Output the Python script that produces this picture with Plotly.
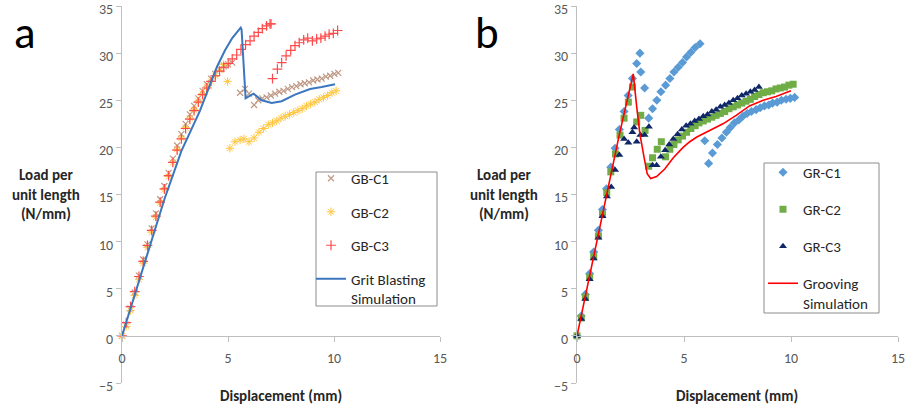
import plotly.graph_objects as go

# ---------------- data: grit blasting (panel a) ----------------
gb_c1_x = [0, 0.2, 0.4, 0.6, 0.8, 1.0, 1.2, 1.4, 1.6, 1.8, 2.0, 2.2, 2.4, 2.6, 2.8, 3.0, 3.2, 3.4,
           3.6, 3.8, 4.0, 4.2, 4.4, 4.6, 4.8, 5.0, 5.2, 5.57, 5.8, 5.99, 6.23, 6.43, 6.62, 6.82,
           7.02, 7.22, 7.42, 7.62, 7.82, 8.02, 8.22, 8.42, 8.62, 8.82, 9.02, 9.22, 9.42, 9.62,
           9.82, 10.02, 10.2]
gb_c1_y = [0, 1.2, 2.9, 4.6, 6.4, 8.1, 9.7, 11.4, 13.0, 14.5, 15.9, 17.3, 18.8, 20.2, 21.4, 22.5,
           23.5, 24.4, 25.2, 26.0, 26.7, 27.3, 27.8, 28.3, 28.6, 28.8, 29.0, 25.8, 26.2, 25.7, 24.5,
           25.0, 25.2, 25.3, 25.5, 25.7, 25.9, 26.0, 26.2, 26.4, 26.5, 26.7, 26.8, 26.9, 27.1, 27.2,
           27.3, 27.5, 27.6, 27.8, 27.9]

gb_c2_x = [0, 0.2, 0.4, 0.6, 0.8, 1.0, 1.2, 1.4, 1.6, 1.8, 2.0, 2.2, 2.4, 2.6, 2.8, 3.0, 3.2, 3.4,
           3.6, 3.8, 4.0, 4.2, 4.4, 4.6, 4.78, 4.98, 5.09, 5.33, 5.57, 5.75, 5.99, 6.23, 6.46, 6.67,
           6.9, 7.1, 7.3, 7.5, 7.7, 7.9, 8.1, 8.3, 8.5, 8.7, 8.9, 9.1, 9.3, 9.5, 9.7, 9.9, 10.1]
gb_c2_y = [0, 1.0, 2.7, 4.3, 6.0, 7.7, 9.4, 11.0, 12.6, 14.1, 15.5, 16.9, 18.4, 19.8, 21.0, 22.1,
           23.1, 24.0, 24.9, 25.7, 26.4, 27.0, 27.6, 28.2, 28.8, 27.0, 19.9, 20.6, 20.8, 20.9, 20.6,
           21.0, 21.6, 22.0, 22.4, 22.6, 22.8, 23.1, 23.3, 23.5, 23.7, 23.9, 24.1, 24.4, 24.6, 24.8,
           25.1, 25.3, 25.5, 25.8, 26.0]

gb_c3_x = [0, 0.2, 0.4, 0.6, 0.8, 1.0, 1.2, 1.4, 1.6, 1.8, 2.0, 2.2, 2.4, 2.6, 2.8, 3.0, 3.2, 3.4,
           3.6, 3.8, 4.0, 4.2, 4.4, 4.6, 4.8, 5.01, 5.2, 5.41, 5.61, 5.83, 6.04, 6.23, 6.43, 6.62,
           6.82, 6.98, 7.03, 7.1, 7.33, 7.53, 7.74, 7.96, 8.16, 8.36, 8.57, 8.76, 8.98, 9.18, 9.38,
           9.58, 9.77, 9.97, 10.17]
gb_c3_y = [0, 1.4, 3.1, 4.7, 6.3, 7.9, 9.6, 11.2, 12.7, 14.2, 15.6, 17.0, 18.4, 19.7, 20.9, 22.0,
           23.0, 23.9, 24.8, 25.6, 26.3, 27.0, 27.6, 28.1, 28.5, 28.9, 29.4, 29.8, 30.4, 30.9, 31.3,
           31.8, 32.2, 32.6, 32.9, 33.1, 33.1, 27.3, 28.3, 29.0, 29.7, 30.3, 30.8, 31.1, 31.4, 31.6,
           31.3, 31.5, 31.6, 31.8, 32.0, 32.1, 32.4]

gb_sim_x = [0, 1.0, 2.0, 2.8, 3.68, 4.47, 4.86, 5.2, 5.41, 5.6, 5.64, 5.83, 6.2, 6.59, 7.06, 7.53,
            8.16, 8.87, 9.42, 10.05]
gb_sim_y = [0, 7.3, 14.5, 19.6, 23.9, 28.5, 30.3, 31.6, 32.2, 32.7, 32.5, 25.2, 25.7, 25.0, 24.7,
            24.9, 25.6, 26.2, 26.4, 26.7]

# ---------------- data: grooving (panel b) ----------------
gr_c1_x = [0, 0.2, 0.39, 0.59, 0.78, 1.0, 1.19, 1.38, 1.58, 1.78, 1.98, 2.2, 2.39, 2.59, 2.79, 2.94,
           2.98, 3.16, 3.35, 3.53, 3.73, 3.92, 4.14, 4.34, 4.53, 4.73, 4.93, 5.12, 5.32, 5.52, 5.75,
           5.97, 6.15, 6.33, 6.56, 6.77, 6.98, 7.16, 7.36, 7.56, 7.75, 7.95, 8.15, 8.37, 8.56, 8.76,
           8.96, 9.14, 9.35, 9.55, 9.77, 9.97, 10.17]
gr_c1_y = [0, 2.1, 4.4, 6.6, 8.9, 11.2, 13.4, 15.6, 17.9, 19.9, 21.9, 23.8, 25.5, 27.3, 28.9, 30.0,
           28.0, 26.3, 23.1, 24.1, 25.0, 25.9, 26.6, 27.3, 28.0, 28.5, 29.0, 29.6, 30.1, 30.6, 31.0,
           20.7, 18.3, 19.4, 20.3, 21.0, 21.6, 22.1, 22.6, 22.9, 23.3, 23.6, 23.8, 24.0, 24.2, 24.4,
           24.5, 24.7, 24.8, 25.0, 25.1, 25.2, 25.3]

gr_c2_x = [0, 0.2, 0.39, 0.59, 0.78, 1.0, 1.19, 1.39, 1.58, 1.8, 2.01, 2.2, 2.4, 2.59, 2.79, 2.98,
           3.18, 3.35, 3.53, 3.75, 3.94, 4.14, 4.34, 4.53, 4.73, 4.93, 5.12, 5.32, 5.52, 5.7, 5.9,
           6.1, 6.3, 6.5, 6.7, 6.9, 7.1, 7.3, 7.5, 7.7, 7.9, 8.1, 8.3, 8.5, 8.7, 8.9, 9.1, 9.3, 9.5,
           9.7, 9.9, 10.1]
gr_c2_y = [0, 1.9, 4.1, 6.2, 8.4, 10.6, 12.9, 15.2, 17.4, 19.3, 21.3, 23.1, 24.8, 26.4, 22.7, 23.4,
           21.8, 18.0, 18.9, 19.8, 20.6, 19.0, 19.8, 20.3, 20.8, 21.2, 21.6, 22.0, 22.3, 22.6, 22.8,
           23.0, 23.2, 23.4, 23.6, 23.8, 24.1, 24.3, 24.5, 24.7, 24.9, 25.1, 25.4, 25.6, 25.8, 25.9,
           26.0, 26.2, 26.3, 26.4, 26.6, 26.7]

gr_c3_x = [0, 0.2, 0.39, 0.59, 0.78, 1.0, 1.19, 1.4, 1.6, 1.78, 1.98, 2.2, 2.4, 2.59, 2.67, 2.79,
           2.96, 3.16, 3.36, 3.53, 3.72, 3.92, 4.12, 4.31, 4.5, 4.7, 4.9, 5.1, 5.3, 5.5, 5.7, 5.9,
           6.1, 6.3, 6.5, 6.7, 6.9, 7.1, 7.3, 7.5, 7.7, 7.9, 8.1, 8.3, 8.5]
gr_c3_y = [0, 1.8, 3.9, 6.0, 8.2, 10.4, 12.7, 14.8, 15.8, 17.6, 19.2, 20.9, 20.5, 21.6, 22.1, 20.6,
           21.3, 21.3, 22.2, 18.1, 18.1, 19.0, 19.7, 20.3, 20.9, 21.4, 21.9, 22.3, 22.5, 22.8, 23.0,
           23.3, 23.5, 23.8, 24.0, 24.3, 24.5, 24.7, 25.0, 25.2, 25.5, 25.7, 25.9, 26.1, 26.4]

gr_sim_x = [0, 0.5, 1.0, 1.5, 2.0, 2.4, 2.63, 2.79, 2.94, 3.13, 3.28, 3.44, 3.72, 4.1, 4.5, 4.96,
            5.27, 5.6, 6.2, 6.82, 7.44, 8.06, 8.7, 9.3, 10.0]
gr_sim_y = [0, 5.3, 10.8, 16.2, 21.6, 25.6, 27.8, 24.3, 21.4, 19.0, 17.2, 16.7, 16.9, 17.7, 18.9,
            20.0, 20.6, 21.1, 21.8, 22.5, 23.4, 24.4, 25.0, 25.4, 26.0]

# ---------------- axis settings ----------------
x_range = [0, 15]
y_range = [-5, 35]
x_ticks = [0, 5, 10, 15]
y_ticks = [-5, 0, 5, 10, 15, 20, 25, 30, 35]
x_title = "Displacement (mm)"
y_title = "Load per<br>unit length<br>(N/mm)"

W, H = 910, 413
FONT = "Carlito, Lato, sans-serif"
AXIS_GREY = "#BFBFBF"
TICK_TEXT = "#595959"


def fx(p):
    return p / W


def fy(p):
    return 1 - p / H


y_dom = [fy(383), fy(6)]
# paper height at which the data value y = 0 sits, for the x axis line
x_axis_pos = y_dom[0] + (y_dom[1] - y_dom[0]) * (0 - y_range[0]) / (y_range[1] - y_range[0])

fig = go.Figure()


def add_markers(x, y, name, symbol, color, size, xa, ya, leg, lw=1.0):
    fig.add_trace(go.Scatter(
        x=x, y=y, mode="markers", name=name, legendgroup=name, legend=leg,
        xaxis=xa, yaxis=ya, cliponaxis=False,
        marker=dict(symbol=symbol, size=size, color=color,
                    line=dict(color=color, width=lw)),
    ))


def add_line(x, y, name, color, width, xa, ya, leg):
    fig.add_trace(go.Scatter(
        x=x, y=y, mode="lines", name=name, legendgroup=name, legend=leg,
        xaxis=xa, yaxis=ya, line=dict(color=color, width=width),
    ))


# panel a
add_markers(gb_c1_x, gb_c1_y, "GB-C1", "x-thin-open", "#BF9985", 6, "x", "y", "legend", 1.2)
add_markers(gb_c2_x, gb_c2_y, "GB-C2", "asterisk-open", "#FFC640", 7, "x", "y", "legend", 1.0)
add_markers(gb_c3_x, gb_c3_y, "GB-C3", "cross-thin-open", "#FF4A4A", 7, "x", "y", "legend", 1.2)
add_line(gb_sim_x, gb_sim_y, "Grit Blasting<br>Simulation", "#3B76BE", 2, "x", "y", "legend")

# panel b
add_markers(gr_c1_x, gr_c1_y, "GR-C1", "diamond", "#5B9BD5", 7, "x2", "y2", "legend2", 0)
add_markers(gr_c2_x, gr_c2_y, "GR-C2", "square", "#70AD47", 7, "x2", "y2", "legend2", 0)
add_markers(gr_c3_x, gr_c3_y, "GR-C3", "triangle-up", "#0E2766", 7, "x2", "y2", "legend2", 0)
add_line(gr_sim_x, gr_sim_y, "Grooving<br>Simulation", "#FF0000", 1.6, "x2", "y2", "legend2")

xaxis_common = dict(
    range=x_range, tickvals=x_ticks, showgrid=False, zeroline=False,
    showline=True, linecolor=AXIS_GREY, linewidth=1,
    ticks="outside", ticklen=5, tickcolor=AXIS_GREY, ticklabelstandoff=4,
    ticklabeloverflow="allow", automargin=False,
    tickfont=dict(family=FONT, size=14, color=TICK_TEXT),
    anchor="free", position=x_axis_pos, fixedrange=True,
)
yaxis_common = dict(
    range=y_range, tickvals=y_ticks, showgrid=False, zeroline=False,
    showline=True, linecolor=AXIS_GREY, linewidth=1,
    ticks="outside", ticklen=5, tickcolor=AXIS_GREY, ticklabelshift=3,
    ticklabeloverflow="allow", automargin=False,
    tickfont=dict(family=FONT, size=14, color=TICK_TEXT),
    domain=y_dom, fixedrange=True,
)

legend_common = dict(
    bgcolor="rgba(0,0,0,0)", borderwidth=0, valign="top",
    traceorder="grouped", font=dict(family=FONT, size=15, color="#262626"),
    xanchor="left", yanchor="top",
)

fig.update_layout(
    width=W, height=H,
    margin=dict(l=0, r=0, t=0, b=0, pad=0, autoexpand=False),
    paper_bgcolor="white", plot_bgcolor="white",
    font=dict(family=FONT),
    xaxis=dict(domain=[fx(122), fx(440)], **xaxis_common),
    yaxis=dict(anchor="x", **yaxis_common),
    xaxis2=dict(domain=[fx(577), fx(898)], **xaxis_common),
    yaxis2=dict(anchor="x2", **yaxis_common),
    legend=dict(x=fx(311), y=fy(162), tracegroupgap=11, **legend_common),
    legend2=dict(x=fx(763), y=fy(156), tracegroupgap=14.5, **legend_common),
    showlegend=True,
)

# legend frames
for x0, x1, y0, y1 in [(316, 437, 172, 306), (764, 879, 163, 313)]:
    fig.add_shape(type="rect", xref="paper", yref="paper",
                  x0=fx(x0), x1=fx(x1), y0=fy(y1), y1=fy(y0),
                  line=dict(color="#8C8C8C", width=1), fillcolor="rgba(0,0,0,0)")

# axis titles and panel letters
for cx in (46, 504):
    fig.add_annotation(text=f"<b>{y_title}</b>", xref="paper", yref="paper",
                       x=fx(cx), y=fy(194), xanchor="center", yanchor="middle",
                       showarrow=False, align="center",
                       font=dict(family=FONT, size=15, color="#262626"))
for cx in (281, 737):
    fig.add_annotation(text=f"<b>{x_title}</b>", xref="paper", yref="paper",
                       x=fx(cx), y=fy(396), xanchor="center", yanchor="middle",
                       showarrow=False,
                       font=dict(family=FONT, size=15, color="#262626"))
for letter, cx in (("a", 25), ("b", 487)):
    fig.add_annotation(text=letter, xref="paper", yref="paper",
                       x=fx(cx), y=fy(33), xanchor="center", yanchor="middle",
                       showarrow=False,
                       font=dict(family=FONT, size=45, color="black"))

fig.write_html("out.html")
